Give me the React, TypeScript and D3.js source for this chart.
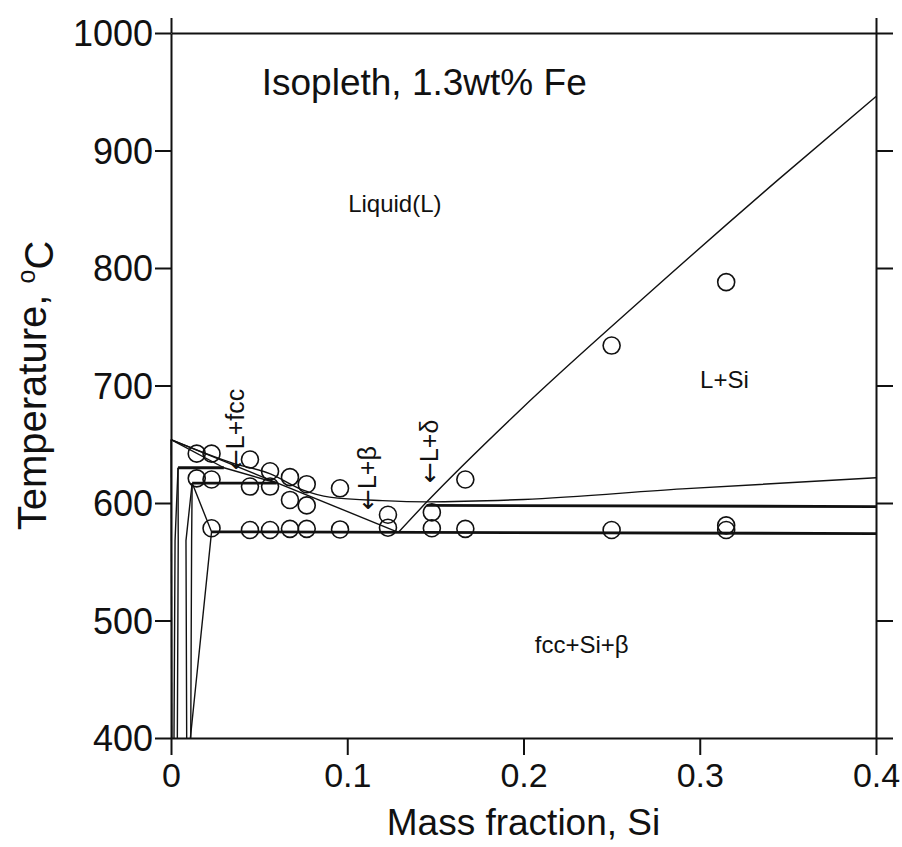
import * as d3 from "d3";
import { useEffect, useRef } from "react";

const width = 902;
const height = 847;
const margin = { top: 33, right: 26, bottom: 109, left: 171 };

const xTicks = [0, 0.1, 0.2, 0.3, 0.4];
const yTicks = [400, 500, 600, 700, 800, 900, 1000];

// phase boundaries, [mass fraction Si, temperature °C]
const liquidusFcc = [[0, 654], [0.129, 575]];
const liquidusUpper = [
  [0, 654], [0.035, 634], [0.056, 625], [0.075, 611], [0.09, 605],
  [0.12, 602], [0.145, 601], [0.2, 603], [0.29, 612], [0.4, 621.5],
];
const liquidusSi = [
  [0.129, 575], [0.1452, 601], [0.198, 679], [0.27, 777], [0.3444, 875], [0.4, 946],
];
const fccBoundary = [[0, 654], [0.03, 630]];
const fccLink = [[0.03, 630], [0.06, 617]];
const solvusCorner = [[0.012, 617], [0.023, 575.5], [0.011, 400]];
const solvusLines = [
  [[0, 654], [0.0005, 400]],
  [[0.004, 630], [0.0023, 568], [0.0017, 400]],
  [[0.004, 630], [0.0041, 568], [0.0036, 400]],
  [[0.012, 617], [0.0085, 568], [0.0089, 400]],
  [[0.012, 617], [0.0117, 568], [0.0112, 400]],
];
const invariant630 = [[0.004, 630], [0.03, 630]];
const invariant617 = [[0.012, 617], [0.06, 617]];
const invariant597 = [[0.145, 598], [0.4, 597]];
const invariant575 = [[0.023, 575.5], [0.4, 574]];

// measured points
const measured = [
  [0.0146, 642], [0.0146, 621],
  [0.023, 642], [0.023, 620], [0.023, 578.5],
  [0.0448, 637], [0.0448, 614], [0.0448, 577],
  [0.0562, 627], [0.0562, 614], [0.0562, 577],
  [0.0675, 622], [0.0675, 602.6], [0.0675, 578],
  [0.077, 616], [0.077, 598], [0.077, 578],
  [0.0959, 612.5], [0.0959, 577.5],
  [0.1231, 590], [0.1231, 579],
  [0.148, 592], [0.148, 578.5],
  [0.167, 620], [0.167, 578],
  [0.25, 734], [0.25, 577],
  [0.315, 788], [0.315, 581], [0.315, 577],
];

const regionLabels = [
  { text: "Liquid(L)", x: 0.127, t: 848 },
  { text: "L+Si", x: 0.314, t: 698 },
  { text: "fcc+Si+β", x: 0.233, t: 472 },
];
const arrowLabels = [
  { text: "L+fcc", x: 0.0363, t: 628 },
  { text: "L+β", x: 0.111, t: 594 },
  { text: "L+δ", x: 0.1464, t: 617 },
];

const font = "'Liberation Sans', Arial, Helvetica, sans-serif";

export default function App() {
  const svgRef = useRef<SVGSVGElement>(null);

  useEffect(() => {
    if (!svgRef.current) return;
    const svg = d3.select(svgRef.current);
    svg.selectAll("*").remove();

    const x = d3.scaleLinear().domain([0, 0.4]).range([margin.left, width - margin.right]);
    const y = d3.scaleLinear().domain([400, 1000]).range([height - margin.bottom, margin.top]);
    const plotBottom = height - margin.bottom;
    const plotRight = width - margin.right;

    const styleAxis = (size: number) => (g: any) => {
      g.select(".domain").attr("stroke", "#111").attr("stroke-width", 2);
      g.selectAll(".tick line").attr("stroke", "#111").attr("stroke-width", 2);
      g.selectAll(".tick text")
        .attr("fill", "#111")
        .style("font-family", font)
        .style("font-size", `${size}px`);
    };

    svg
      .append("g")
      .attr("transform", `translate(0,${plotBottom})`)
      .call(
        d3.axisBottom(x).tickValues(xTicks).tickSize(17).tickSizeOuter(0).tickPadding(8)
          .tickFormat((d: any) => (d === 0 ? "0" : d3.format(".1f")(d)))
      )
      .call(styleAxis(34));

    svg
      .append("g")
      .attr("transform", `translate(${margin.left},0)`)
      .call(
        d3.axisLeft(y).tickValues(yTicks).tickSize(16).tickSizeOuter(0).tickPadding(2)
          .tickFormat(d3.format("d"))
      )
      .call(styleAxis(36))
      .call((g: any) => g.selectAll(".tick text").attr("dy", "0.36em"));

    svg
      .append("g")
      .attr("transform", `translate(${plotRight},0)`)
      .call(d3.axisRight(y).tickValues(yTicks).tickSize(17).tickSizeOuter(0).tickFormat(() => ""))
      .call(styleAxis(34));

    svg
      .append("g")
      .attr("transform", `translate(0,${margin.top})`)
      .call(d3.axisTop(x).tickValues([0, 0.4]).tickSize(15).tickSizeOuter(0).tickFormat(() => ""))
      .call(styleAxis(34));

    const line = d3
      .line<number[]>()
      .x((d) => x(d[0]))
      .y((d) => y(d[1]));
    const smooth = d3
      .line<number[]>()
      .x((d) => x(d[0]))
      .y((d) => y(d[1]))
      .curve(d3.curveMonotoneX);

    const lines = svg.append("g").attr("fill", "none").attr("stroke", "#111");

    const thin = [liquidusFcc, fccBoundary, fccLink, solvusCorner, ...solvusLines];
    lines
      .selectAll(".thin")
      .data(thin)
      .join("path")
      .attr("class", "thin")
      .attr("d", (d) => line(d))
      .attr("stroke-width", 1.4);

    lines
      .selectAll(".curve")
      .data([liquidusUpper, liquidusSi])
      .join("path")
      .attr("class", "curve")
      .attr("d", (d) => smooth(d))
      .attr("stroke-width", 1.4);

    lines
      .selectAll(".thick")
      .data([invariant630, invariant617, invariant597, invariant575])
      .join("path")
      .attr("class", "thick")
      .attr("d", (d) => line(d))
      .attr("stroke-width", 2.8);

    svg
      .append("g")
      .selectAll("circle")
      .data(measured)
      .join("circle")
      .attr("cx", (d) => x(d[0]))
      .attr("cy", (d) => y(d[1]))
      .attr("r", 8.5)
      .attr("fill", "none")
      .attr("stroke", "#111")
      .attr("stroke-width", 1.6);

    svg
      .append("text")
      .attr("x", x(0.0515))
      .attr("y", y(947))
      .attr("fill", "#111")
      .style("font-family", font)
      .style("font-size", "37px")
      .text("Isopleth, 1.3wt% Fe");

    svg
      .append("g")
      .selectAll("text")
      .data(regionLabels)
      .join("text")
      .attr("x", (d) => x(d.x))
      .attr("y", (d) => y(d.t))
      .attr("text-anchor", "middle")
      .attr("fill", "#111")
      .style("font-family", font)
      .style("font-size", "24px")
      .text((d) => d.text);

    const arrows = svg
      .append("g")
      .selectAll("text")
      .data(arrowLabels)
      .join("text")
      .attr("transform", (d) => `translate(${x(d.x) + 9},${y(d.t)}) rotate(-90)`)
      .attr("fill", "#111")
      .style("font-family", font)
      .style("font-size", "25px");
    arrows
      .append("tspan")
      .style("font-family", "'DejaVu Sans', sans-serif")
      .text("←");
    arrows.append("tspan").text((d) => d.text);

    svg
      .append("text")
      .attr("x", (margin.left + plotRight) / 2)
      .attr("y", height - 12)
      .attr("text-anchor", "middle")
      .attr("fill", "#111")
      .style("font-family", font)
      .style("font-size", "37px")
      .text("Mass fraction, Si");

    const yLabel = svg
      .append("text")
      .attr("transform", `translate(46,${(margin.top + plotBottom) / 2}) rotate(-90)`)
      .attr("text-anchor", "middle")
      .attr("fill", "#111")
      .style("font-family", font)
      .style("font-size", "40px");
    yLabel.append("tspan").text("Temperature, ");
    yLabel.append("tspan").attr("dy", "-0.45em").style("font-size", "25px").text("o");
    yLabel.append("tspan").attr("dy", "0.45em").text("C");
  }, []);

  return (
    <svg
      ref={svgRef}
      width={width}
      height={height}
      style={{ position: "absolute", left: 0, top: 0, background: "#fff" }}
    />
  );
}
